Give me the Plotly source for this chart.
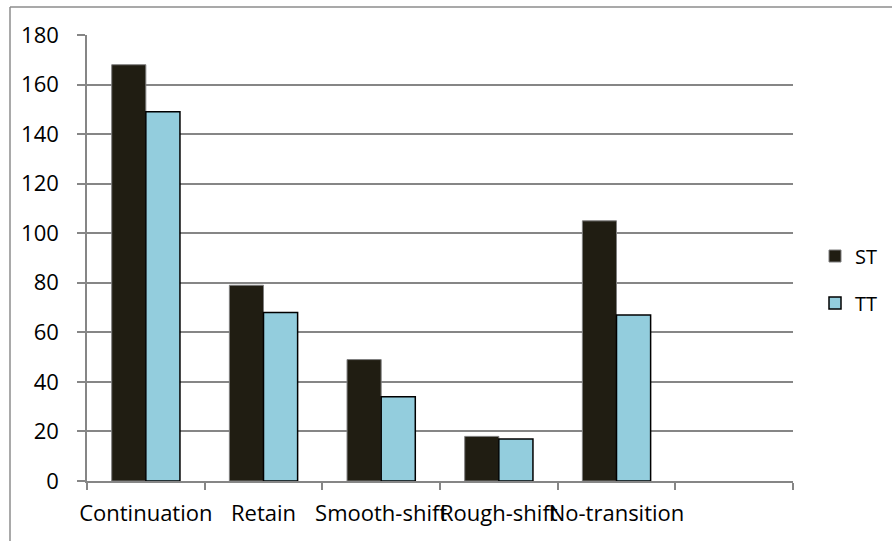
import plotly.graph_objects as go

# Centering transition counts per category
categories = ["Continuation", "Retain", "Smooth-shift", "Rough-shift", "No-transition"]
st_values = [168, 79, 49, 18, 105]
tt_values = [149, 68, 34, 17, 67]
y_ticks = [0, 20, 40, 60, 80, 100, 120, 140, 160, 180]

# an extra empty slot on the category axis, as in the original worksheet chart
slots = categories + [" "]

FONT = "Open Sans"
GRID = "#868686"

fig = go.Figure()
fig.add_trace(go.Bar(
    name="ST", x=categories, y=st_values,
    marker=dict(color="#201d12", line=dict(color="#7f7f7f", width=1)),
    legend="legend",
))
fig.add_trace(go.Bar(
    name="TT", x=categories, y=tt_values,
    marker=dict(color="#93cddd", line=dict(color="#000000", width=1.5)),
    legend="legend2",
))

W, H = 892, 541
L, R, T, B = 87, 99, 35, 60
pw, ph = W - L - R, H - T - B


def px_x(x):
    return (x - L) / pw


def px_y(y):
    return (H - B - y) / ph


def cx(x):
    return x / W


def cy(y):
    return 1 - y / H


fig.update_layout(
    width=W, height=H,
    margin=dict(l=L, r=R, t=T, b=B, autoexpand=False),
    paper_bgcolor="white", plot_bgcolor="white",
    barmode="group", bargap=0.42, bargroupgap=0,
    font=dict(family=FONT, size=21, color="#000000"),
    xaxis=dict(
        type="category", categoryorder="array", categoryarray=slots,
        range=[-0.5, len(slots) - 0.5],
        tickson="boundaries", ticks="outside", ticklen=7, tickwidth=1.5,
        tickcolor=GRID, showline=True, linecolor=GRID, linewidth=1.5,
        showgrid=False, tickangle=0, tickfont=dict(size=22),
        ticklabelstandoff=12, fixedrange=True, automargin=False,
    ),
    yaxis=dict(
        range=[0, 180], tickvals=y_ticks, ticks="outside", ticklen=8,
        tickwidth=1.5, tickcolor=GRID, showline=True, linecolor=GRID,
        linewidth=1.5, showgrid=True, gridcolor=GRID, gridwidth=1.5,
        zeroline=False, tickfont=dict(size=22), ticklabelstandoff=14,
        automargin=False,
    ),
    legend=dict(
        xref="container", yref="container",
        x=cx(815), y=cy(256), xanchor="left", yanchor="middle",
        bgcolor="rgba(0,0,0,0)", font=dict(size=20),
    ),
    legend2=dict(
        xref="container", yref="container",
        x=cx(815), y=cy(303), xanchor="left", yanchor="middle",
        bgcolor="rgba(0,0,0,0)", font=dict(size=20),
    ),
    showlegend=True,
)

# chart frame (left and top edges)
fig.add_shape(type="line", xref="paper", yref="paper",
              x0=px_x(10), x1=px_x(W + 5), y0=px_y(7), y1=px_y(7),
              line=dict(color="#8c8c8c", width=1.5))
fig.add_shape(type="line", xref="paper", yref="paper",
              x0=px_x(10), x1=px_x(10), y0=px_y(7), y1=px_y(H + 5),
              line=dict(color="#8c8c8c", width=1.5))

fig.write_html("out.html")
